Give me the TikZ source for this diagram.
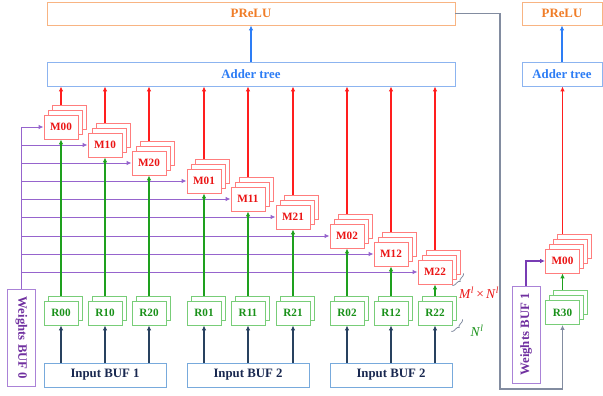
\documentclass[tikz,border=0pt]{standalone}
\usepackage{fontspec}
\setmainfont{Liberation Serif}
\usepackage{graphicx}
\usetikzlibrary{arrows.meta, shadows, backgrounds, decorations.pathreplacing}
\definecolor{MLine}{RGB}{255,30,30}
\definecolor{MRand}{RGB}{255,125,125}
\definecolor{MText}{RGB}{235,20,20}
\definecolor{RLine}{RGB}{30,160,30}
\definecolor{RRand}{RGB}{120,205,120}
\definecolor{RText}{RGB}{25,145,25}
\definecolor{WLine}{RGB}{150,100,205}
\definecolor{WDark}{RGB}{120,60,180}
\definecolor{WRand}{RGB}{170,130,215}
\definecolor{WText}{RGB}{112,48,160}
\definecolor{INavy}{RGB}{40,65,95}
\definecolor{IText}{RGB}{25,40,80}
\definecolor{IRand}{RGB}{120,170,220}
\definecolor{ABlau}{RGB}{45,125,245}
\definecolor{ARand}{RGB}{140,180,240}
\definecolor{POrange}{RGB}{240,125,40}
\definecolor{PRand}{RGB}{248,180,130}
\definecolor{GGrau}{RGB}{130,140,160}

\begin{document}
\begin{tikzpicture}[x=1pt, y=-1pt, >={Latex[length=5pt, width=4.5pt]},
    box/.style={draw, fill=white, line width=0.8pt, inner sep=0pt,
        font=\fontsize{12.8}{14}\selectfont\bfseries},
    layer/.style={copy shadow={shadow xshift=#1*4pt, shadow yshift=#1*5pt,
        draw=MRand, fill=white, line width=0.8pt}},
    rlayer/.style={copy shadow={shadow xshift=#1*4pt, shadow yshift=#1*5pt,
        draw=RRand, fill=white, line width=0.8pt}},
    mbox/.style={box, draw=MRand, text=MText, minimum width=34pt, minimum height=24pt,
        font=\fontsize{11.2}{13}\selectfont\bfseries},
    rbox/.style={box, draw=RRand, text=RText, minimum width=34pt, minimum height=24pt,
        font=\fontsize{11.2}{13}\selectfont\bfseries},
    inbox/.style={box, draw=IRand, text=IText, minimum width=122pt, minimum height=24pt},
    wbox/.style={box, draw=WRand, text=WText, minimum width=28pt, minimum height=97pt},
    rline/.style={->, line width=1.4pt, MLine},
    gline/.style={->, line width=1.4pt, RLine},
    pline/.style={->, line width=1pt, WLine},
    nline/.style={->, line width=1.2pt, INavy},
    bline/.style={->, line width=1.2pt, ABlau},
    grayline/.style={->, line width=1.2pt, GGrau},
    brc/.style={decorate, decoration={brace, amplitude=3pt}, line width=0.8pt, GGrau}]
    \useasboundingbox (0,0) rectangle (603,396);

    % top row
    \node[box, draw=PRand, text=POrange, minimum width=408pt, minimum height=23pt] (PReLU) at (251,13.5) {PReLU};
    \node[box, draw=ARand, text=ABlau, minimum width=408pt, minimum height=24pt] (Adder) at (251,74) {Adder tree};
    \node[box, draw=PRand, text=POrange, minimum width=80pt, minimum height=23pt] (PReLUr) at (562,13.5) {PReLU};
    \node[box, draw=ARand, text=ABlau, minimum width=80pt, minimum height=24pt] (Adderr) at (562,74) {Adder tree};

    % multipliers and registers
    \foreach \name/\x/\y in {00/61/127, 10/105/145, 20/149/163, 01/204/181, 11/248/199,
                             21/293/217, 02/347/236, 12/391/254, 22/435/272}
        \node[mbox, layer=2, layer=1] (M\name) at (\x,\y) {M\name};
    \foreach \name/\x in {00/61, 10/105, 20/149, 01/204, 11/248, 21/293, 02/347, 12/391, 22/435}
        \node[rbox, rlayer=1] (R\name) at (\x,313) {R\name};
    \node[mbox, layer=3, layer=2, layer=1] (Mright) at (562.5,261) {M00};
    \node[rbox, rlayer=2, rlayer=1] (R30) at (562.5,312.5) {R30};

    % buffers
    \node[inbox] (IB1) at (105,375) {Input BUF 1};
    \node[inbox] (IB2) at (248,375) {Input BUF 2};
    \node[inbox] (IB3) at (391,375) {Input BUF 2};
    \node[wbox] (WB0) at (21.5,338) {\rotatebox{-90}{Weights BUF 0}};
    \node[wbox] (WB1) at (526,334.5) {\rotatebox{90}{Weights BUF 1}};
    \coordinate (turn) at (500,389);

    \begin{scope}[on background layer]
        \draw[pline] (WB0.north) |- (M00.west);
        \foreach \name in {10,20,01,11,21,02,12,22}
            \draw[pline] (WB0.north |- M\name.west) -- (M\name.west);
        \foreach \name in {00,10,20,01,11,21,02,12,22} {
            \draw[gline] (R\name.north) -- (M\name.south);
            \draw[rline] (M\name.north) -- (M\name.north |- Adder.south);
        }
        \foreach \name/\buf in {00/IB1, 10/IB1, 20/IB1, 01/IB2, 11/IB2, 21/IB2, 02/IB3, 12/IB3, 22/IB3}
            \draw[nline] (R\name.south |- \buf.north) -- (R\name.south);
        \draw[pline, line width=1.4pt, WDark] (WB1.north) |- (Mright.west);
        \draw[gline] (R30.north) -- (Mright.south);
        \draw[rline] (Mright.north) -- (Mright.north |- Adderr.south);
    \end{scope}
    \draw[bline] (Adder.north) -- (PReLU.south);
    \draw[bline] (Adderr.north) -- (PReLUr.south);
    \draw[grayline] (PReLU.east) -| (turn) -| (R30.south);

    % size labels
    \draw[brc] ([shift={(11,-11)}]M22.south east) -- ([shift={(0,1)}]M22.south east);
    \node[text=MText, font=\fontsize{13.5}{15}\selectfont] (MN) at (479,293)
        {\textit{M}\textsuperscript{\textit{l}}\,×\,\textit{N}\textsuperscript{\textit{l}}};
    \draw[brc] ([shift={(10,-6)}]R22.south east) -- ([shift={(-1,6)}]R22.south east);
    \node[text=RText, font=\fontsize{13.5}{15}\selectfont] (Nl) at (477,331)
        {\textit{N}\textsuperscript{\textit{l}}};
\end{tikzpicture}
\end{document}
